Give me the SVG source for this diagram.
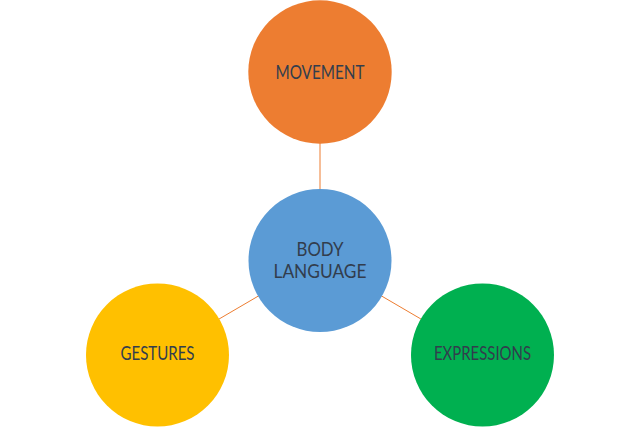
<svg xmlns="http://www.w3.org/2000/svg" width="640" height="427" viewBox="0 0 640 427">
<style>
.lbl{font-family:Lato,"Open Sans","Liberation Sans",sans-serif;font-size:19px;fill:#323d4d;text-anchor:middle}
.con{stroke:#ED7D31;stroke-width:1;fill:none}
</style>
<rect width="640" height="427" fill="#ffffff"/>
<g id="connectors">
<line class="con" x1="320" y1="143" x2="320" y2="189"/>
<line class="con" x1="320" y1="260" x2="157.5" y2="355"/>
<line class="con" x1="320" y1="260" x2="482.5" y2="355"/>
</g>
<g id="movement">
<circle cx="320" cy="72" r="71.7" fill="#ED7D31"/>
<text class="lbl" x="320" y="78.5" textLength="89" lengthAdjust="spacingAndGlyphs">MOVEMENT</text>
</g>
<g id="body-language">
<circle cx="320" cy="260.5" r="71.5" fill="#5B9BD5"/>
<text class="lbl" x="320" y="255.5" textLength="47" lengthAdjust="spacingAndGlyphs">BODY</text>
<text class="lbl" x="320" y="278" textLength="93" lengthAdjust="spacingAndGlyphs">LANGUAGE</text>
</g>
<g id="gestures">
<circle cx="157.5" cy="355" r="71.5" fill="#FFC000"/>
<text class="lbl" x="157.5" y="359.5" textLength="74" lengthAdjust="spacingAndGlyphs">GESTURES</text>
</g>
<g id="expressions">
<circle cx="482.5" cy="355" r="71.5" fill="#00B050"/>
<text class="lbl" x="482.5" y="359.5" textLength="97" lengthAdjust="spacingAndGlyphs">EXPRESSIONS</text>
</g>
</svg>
